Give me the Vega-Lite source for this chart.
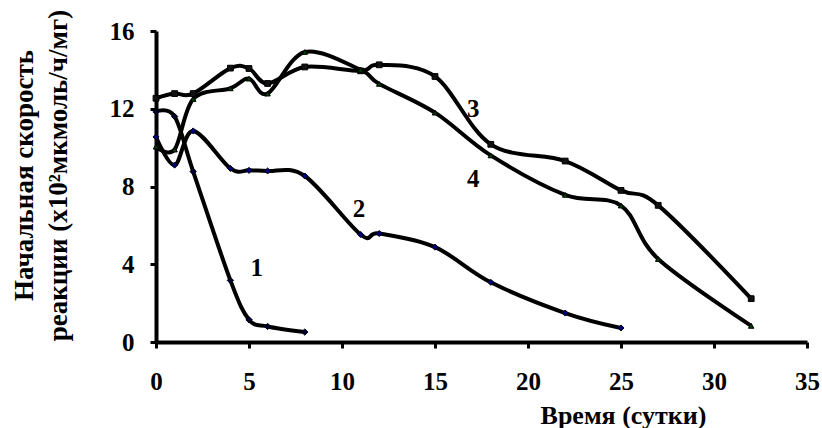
{
  "$schema": "https://vega.github.io/schema/vega-lite/v6.json",
  "autosize": "none",
  "width": 651,
  "height": 311,
  "padding": {"left": 156, "top": 31, "right": 15, "bottom": 86},
  "background": "white",
  "config": {
    "view": {"stroke": null},
    "font": "Liberation Serif"
  },
  "datasets": {
    "pts": [
      {"s": "1", "t": 0, "v": 11.85},
      {"s": "1", "t": 1, "v": 11.6},
      {"s": "1", "t": 2, "v": 8.77},
      {"s": "1", "t": 4, "v": 3.17},
      {"s": "1", "t": 5, "v": 1.15},
      {"s": "1", "t": 6, "v": 0.8},
      {"s": "1", "t": 8, "v": 0.51},
      {"s": "2", "t": 0, "v": 10.55},
      {"s": "2", "t": 1, "v": 9.1},
      {"s": "2", "t": 2, "v": 10.86},
      {"s": "2", "t": 4, "v": 8.93},
      {"s": "2", "t": 5, "v": 8.83},
      {"s": "2", "t": 6, "v": 8.8},
      {"s": "2", "t": 8, "v": 8.54},
      {"s": "2", "t": 11, "v": 5.53},
      {"s": "2", "t": 12, "v": 5.58},
      {"s": "2", "t": 15, "v": 4.88},
      {"s": "2", "t": 18, "v": 3.07},
      {"s": "2", "t": 22, "v": 1.49},
      {"s": "2", "t": 25, "v": 0.72},
      {"s": "3", "t": 0, "v": 12.54},
      {"s": "3", "t": 1, "v": 12.78},
      {"s": "3", "t": 2, "v": 12.78},
      {"s": "3", "t": 4, "v": 14.09},
      {"s": "3", "t": 5, "v": 14.07},
      {"s": "3", "t": 6, "v": 13.3},
      {"s": "3", "t": 8, "v": 14.15},
      {"s": "3", "t": 11, "v": 13.95},
      {"s": "3", "t": 12, "v": 14.26},
      {"s": "3", "t": 15, "v": 13.66},
      {"s": "3", "t": 18, "v": 10.17},
      {"s": "3", "t": 22, "v": 9.31},
      {"s": "3", "t": 25, "v": 7.8},
      {"s": "3", "t": 27, "v": 7.03},
      {"s": "3", "t": 32, "v": 2.23},
      {"s": "4", "t": 0, "v": 10.05},
      {"s": "4", "t": 1, "v": 9.9},
      {"s": "4", "t": 2, "v": 12.5},
      {"s": "4", "t": 4, "v": 13.05},
      {"s": "4", "t": 5, "v": 13.55},
      {"s": "4", "t": 6, "v": 12.78},
      {"s": "4", "t": 8, "v": 14.92},
      {"s": "4", "t": 11, "v": 14.0},
      {"s": "4", "t": 12, "v": 13.28},
      {"s": "4", "t": 15, "v": 11.8},
      {"s": "4", "t": 18, "v": 9.6},
      {"s": "4", "t": 22, "v": 7.57},
      {"s": "4", "t": 25, "v": 7.02},
      {"s": "4", "t": 27, "v": 4.27},
      {"s": "4", "t": 32, "v": 0.83}
    ],
    "labels": [
      {"s": "1", "t": 5.42, "v": 3.83},
      {"s": "2", "t": 10.92, "v": 6.82},
      {"s": "3", "t": 17.05, "v": 11.97},
      {"s": "4", "t": 17.05, "v": 8.37}
    ]
  },
  "layer": [
    {
      "data": {"name": "pts"},
      "mark": {"type": "line", "interpolate": "cardinal", "stroke": "black", "strokeWidth": 4},
      "encoding": {
        "x": {
          "field": "t", "type": "quantitative",
          "scale": {"domain": [0, 35], "nice": false, "zero": false},
          "axis": {
            "values": [0, 5, 10, 15, 20, 25, 30, 35],
            "grid": false,
            "domainColor": "black", "domainWidth": 4,
            "tickColor": "black", "tickWidth": 3, "tickSize": 6,
            "labelFont": "Liberation Serif", "labelFontWeight": "bold", "labelFontSize": 25, "labelColor": "black",
            "labelPadding": 21,
            "labelFlush": false,
            "title": "Время (сутки)",
            "titleFont": "Liberation Serif", "titleFontWeight": "bold", "titleFontSize": 26, "titleColor": "black",
            "titleAnchor": "start", "titleX": 467, "titleY": 81, "titleAlign": "center", "titleBaseline": "alphabetic"
          }
        },
        "y": {
          "field": "v", "type": "quantitative",
          "scale": {"domain": [0, 16], "nice": false},
          "axis": {
            "values": [0, 4, 8, 12, 16],
            "grid": false,
            "domainColor": "black", "domainWidth": 4,
            "tickColor": "black", "tickWidth": 3, "tickSize": 6,
            "labelFont": "Liberation Serif", "labelFontWeight": "bold", "labelFontSize": 25, "labelColor": "black",
            "labelPadding": 16,
            "labelFlush": false,
            "title": ["Начальная скорость", "реакции (x10²мкмоль/ч/мг)"],
            "titleFont": "Liberation Serif", "titleFontWeight": "bold", "titleFontSize": 27, "titleColor": "black",
            "titleLineHeight": 34,
            "titlePadding": 37,
            "titleY": 144
          }
        },
        "detail": {"field": "s"}
      }
    },
    {
      "data": {"name": "pts"},
      "mark": {"type": "point", "filled": true, "opacity": 1, "strokeWidth": 1, "stroke": "black"},
      "encoding": {
        "x": {"field": "t", "type": "quantitative"},
        "y": {"field": "v", "type": "quantitative"},
        "shape": {"field": "s", "type": "nominal", "legend": null,
          "scale": {"domain": ["1", "2", "3", "4"], "range": ["diamond", "diamond", "square", "triangle-up"]}},
        "color": {"field": "s", "type": "nominal", "legend": null,
          "scale": {"domain": ["1", "2", "3", "4"], "range": ["#000033", "#000080", "#111111", "#004000"]}},
        "size": {"field": "s", "type": "nominal", "legend": null,
          "scale": {"domain": ["1", "2", "3", "4"], "range": [40, 30, 90, 85]}}
      }
    },
    {
      "data": {"name": "labels"},
      "mark": {"type": "text", "font": "Liberation Serif", "fontWeight": "bold", "fontSize": 25, "color": "black", "align": "center", "baseline": "middle"},
      "encoding": {
        "x": {"field": "t", "type": "quantitative"},
        "y": {"field": "v", "type": "quantitative"},
        "text": {"field": "s"}
      }
    }
  ]
}
